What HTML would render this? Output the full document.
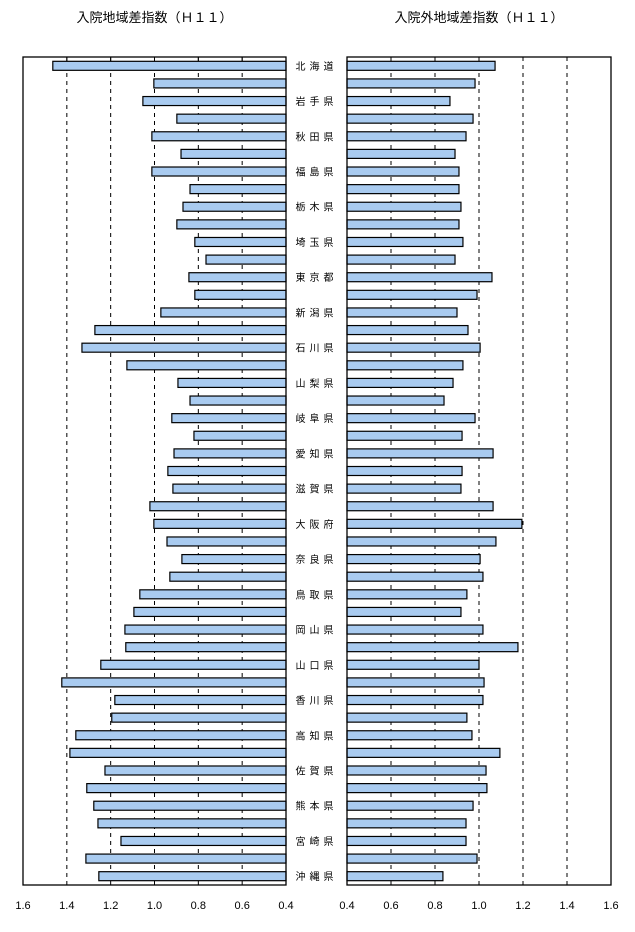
<!DOCTYPE html>
<html><head><meta charset="utf-8"><style>
body{margin:0;background:#fff;}
svg{display:block;font-family:"Liberation Sans","Noto Sans CJK JP",sans-serif;}
</style></head><body>
<svg id="c" width="635" height="932"></svg>
<script>
const prefs=["北海道","青森県","岩手県","宮城県","秋田県","山形県","福島県","茨城県","栃木県","群馬県","埼玉県","千葉県","東京都","神奈川県","新潟県","富山県","石川県","福井県","山梨県","長野県","岐阜県","静岡県","愛知県","三重県","滋賀県","京都府","大阪府","兵庫県","奈良県","和歌山県","鳥取県","島根県","岡山県","広島県","山口県","徳島県","香川県","愛媛県","高知県","福岡県","佐賀県","長崎県","熊本県","大分県","宮崎県","鹿児島県","沖縄県"];
const inpatient=[1.464,1.003,1.053,0.898,1.012,0.879,1.012,0.838,0.870,0.898,0.816,0.765,0.843,0.816,0.971,1.272,1.331,1.126,0.893,0.838,0.921,0.820,0.911,0.939,0.916,1.021,1.003,0.943,0.875,0.930,1.067,1.094,1.135,1.131,1.245,1.423,1.181,1.195,1.359,1.386,1.226,1.309,1.277,1.258,1.153,1.313,1.254];
const outpatient=[1.073,0.982,0.868,0.973,0.941,0.891,0.909,0.909,0.918,0.909,0.927,0.891,1.059,0.991,0.900,0.950,1.005,0.927,0.882,0.841,0.982,0.923,1.064,0.923,0.918,1.064,1.195,1.077,1.005,1.018,0.945,0.918,1.018,1.177,1.000,1.023,1.018,0.945,0.968,1.095,1.032,1.036,0.973,0.941,0.941,0.991,0.836];
const ticks=[0.4,0.6,0.8,1.0,1.2,1.4,1.6];
const tickLabels=["0.4","0.6","0.8","1.0","1.2","1.4","1.6"];
const NS="http://www.w3.org/2000/svg";
const svgEl=document.getElementById('c');
function mk(t,a,p){const e=document.createElementNS(NS,t);for(const k in a)e.setAttribute(k,a[k]);(p||svgEl).appendChild(e);return e;}
const plotTop=57,plotBot=885,rowH=(plotBot-plotTop)/47;
function yRow(i){return plotTop+rowH*(i+0.5);}
const PL={x0:286,x1:23,name:'inpatient'};
const PR={x0:347,x1:611,name:'outpatient'};
function xs(p,v){return p.x0+(v-0.4)/1.2*(p.x1-p.x0);}
function panel(p,vals,title){
  const g=mk('g',{});
  
  
  const t=mk('text',{x:(p.x0+p.x1)/2,y:22,'text-anchor':'middle','font-size':13,fill:'#000'},g);
  t.textContent=title;
  
  
  ticks.forEach((v,i)=>{
    const x=xs(p,v);
    if(i>0&&i<6){const gl=mk('line',{x1:x,x2:x,y1:plotTop,y2:plotBot,stroke:'#000','stroke-dasharray':'4,4','stroke-width':1},g);
      
      
      mk('line',{x1:x,x2:x,y1:plotTop,y2:plotTop+4,stroke:'#000'},g);}
    const tl=mk('text',{x:x,y:909,'text-anchor':'middle','font-size':11,fill:'#000'},g);
    tl.textContent=tickLabels[i];
    
    
  });
  vals.forEach((v,i)=>{
    const xa=xs(p,v),y=yRow(i);
    const r=mk('rect',{x:Math.min(p.x0,xa),y:y-4.5,width:Math.abs(xa-p.x0),height:9,fill:'#a9cbf0',stroke:'#000','stroke-width':1.2},g);
    
    
  });
  const b=mk('rect',{x:Math.min(p.x0,p.x1),y:plotTop,width:Math.abs(p.x1-p.x0),height:plotBot-plotTop,fill:'none',stroke:'#000','stroke-width':1.3},g);
  
  
}
panel(PL,inpatient,'入院地域差指数（Ｈ１１）');
panel(PR,outpatient,'入院外地域差指数（Ｈ１１）');
prefs.forEach((n,i)=>{
  if(i%2)return;
  const t=mk('text',{x:316.5,y:yRow(i)+4,'text-anchor':'middle','font-size':10,fill:'#000','letter-spacing':'4'});
  t.textContent=n;
  
  
});
</script>
</body></html>
